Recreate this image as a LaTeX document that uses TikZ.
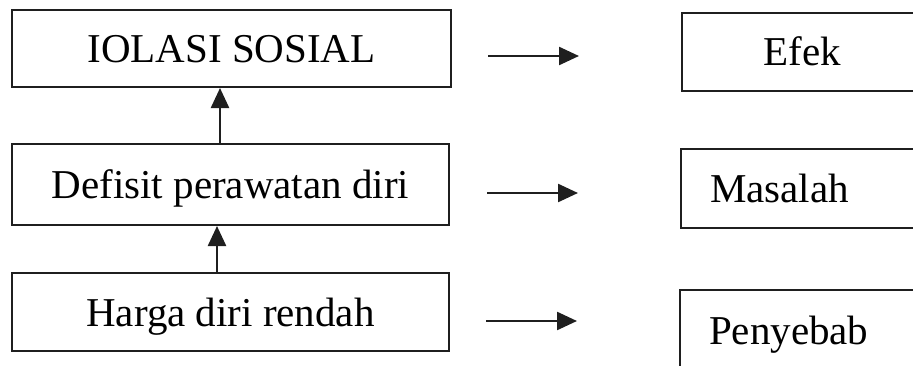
\documentclass[tikz,border=0pt]{standalone}
\usepackage{fontspec}
\setmainfont{Liberation Serif}
\usetikzlibrary{arrows.meta}
\begin{document}
\begin{tikzpicture}[x=1pt,y=1pt,
  box/.style={draw=black!88, line width=2pt, inner sep=0pt,
    font=\fontsize{41}{49}\selectfont, text height=28pt, text depth=0pt},
  rbox/.style={box, minimum width=240pt, text width=182pt, inner xsep=29pt, align=left},
  arr/.style={draw=black!88, line width=2.4pt, -{Triangle[length=20pt,width=18pt]}}
]
\useasboundingbox (0,0) rectangle (913,365);
% left column
\node[box, minimum width=439pt, minimum height=77pt] (iso) at (231.5,316.5) {IOLASI SOSIAL};
\node[box, minimum width=437pt, minimum height=81pt] (def) at (230.5,180.5) {Defisit perawatan diri};
\node[box, minimum width=437pt, minimum height=78pt] (har) at (230.5,53) {Harga diri rendah};
\coordinate (u1) at (220,0);
\coordinate (u2) at (217,0);
\draw[arr] (def.north -| u1) -- (iso.south -| u1);
\draw[arr] (har.north -| u2) -- (def.south -| u2);
% right column
\node[box, minimum width=240pt, minimum height=78pt] (efek) at (802,313) {Efek};
\node[rbox, minimum height=79pt] (mas) at (801,176.5) {Masalah};
\node[rbox, minimum height=80pt] (pen) at (800,35) {Penyebab};
% free arrows
\coordinate (a1s) at (488,309); \coordinate (a1e) at (579,309);
\coordinate (a2s) at (487,172); \coordinate (a2e) at (578,172);
\coordinate (a3s) at (486,44);  \coordinate (a3e) at (577,44);
\draw[arr] (a1s) -- (a1e);
\draw[arr] (a2s) -- (a2e);
\draw[arr] (a3s) -- (a3e);
\end{tikzpicture}
\end{document}
